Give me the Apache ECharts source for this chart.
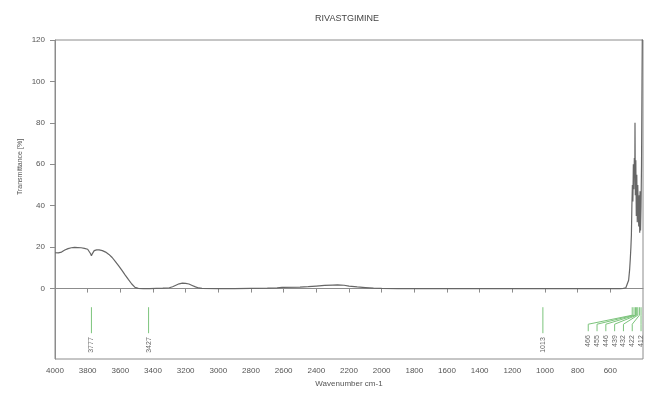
<!DOCTYPE html>
<html>
<head>
<meta charset="utf-8">
<title>RIVASTGIMINE IR spectrum</title>
<script src="https://cdn.jsdelivr.net/npm/echarts@6/dist/echarts.min.js"></script>
<style>
  html, body { margin: 0; padding: 0; background: #fff; }
  #chart { width: 651px; height: 393px; }
</style>
</head>
<body>
<div id="chart"></div>
<script>
// IR spectrum of rivastigmine: wavenumber (cm-1) vs transmittance (%)
const wavenumbers = [
  4000, 3980, 3960, 3940, 3920, 3900, 3880, 3860, 3840, 3820, 3800, 3790, 3782, 3777, 3770,
  3760, 3745, 3730, 3710, 3690, 3670, 3650, 3630, 3610, 3590, 3570, 3550, 3530, 3510, 3490,
  3460, 3420, 3380, 3340, 3300, 3280, 3260, 3240, 3220, 3200, 3180, 3160, 3140, 3120, 3100,
  3000, 2900, 2800, 2700, 2640, 2610, 2500, 2450, 2400, 2350, 2300, 2270, 2230, 2200, 2150,
  2100, 2050, 2000, 1900, 1800, 1600, 1400, 1200, 1000, 800, 600, 540, 520, 505, 495,
  488, 482, 478, 474, 471, 468, 465, 462, 459, 456, 453, 450, 449, 447, 444,
  441, 438, 435, 432, 429, 426, 423, 420, 418, 415, 412, 409, 406, 404
];
const transmittance = [
  17.3, 17.2, 17.6, 18.6, 19.3, 19.7, 19.9, 19.8, 19.7, 19.4, 19.0, 18.3, 16.8, 15.8, 17.0,
  18.3, 18.7, 18.7, 18.3, 17.6, 16.5, 15.0, 13.0, 11.0, 8.8, 6.5, 4.3, 2.2, 0.6, 0.1,
  0.0, 0.0, 0.1, 0.2, 0.4, 0.9, 1.6, 2.3, 2.6, 2.5, 2.2, 1.5, 0.8, 0.3, 0.1,
  0.0, 0.0, 0.1, 0.2, 0.3, 0.6, 0.7, 0.9, 1.2, 1.5, 1.7, 1.8, 1.6, 1.2, 0.8,
  0.5, 0.2, 0.05, 0.0, 0.0, 0.0, 0.0, 0.0, 0.0, 0.0, 0.0, 0.0, 0.1, 0.4, 1.0,
  4.0, 9.0, 14.0, 20.0, 26.0, 40.0, 50.0, 42.0, 60.0, 48.0, 63.0, 55.0, 80.0, 45.0, 62.0,
  35.0, 55.0, 32.0, 50.0, 38.0, 30.0, 45.0, 27.0, 47.0, 28.0, 40.0, 60.0, 100.0, 125.0
];

// Annotated peak positions
const isolatedPeaks = [3777, 3427, 1013];
const clusterPeaks = [466, 455, 446, 439, 432, 422, 412];

// Axis tick labels
const xTickLabels = [4000, 3800, 3600, 3400, 3200, 3000, 2800, 2600, 2400, 2200, 2000,
  1800, 1600, 1400, 1200, 1000, 800, 600];
const yTickLabels = [0, 20, 40, 60, 80, 100, 120];

const chartTitle = 'RIVASTGIMINE';
const xName = 'Wavenumber cm-1';
const yName = 'Transmittance [%]';

const spectrum = wavenumbers.map((w, i) => [w, transmittance[i]]);
const peakItems = isolatedPeaks.map(p => [p, 0]).concat(clusterPeaks.map(p => [p, 0]));

const FONT = "'Liberation Sans Narrow', 'Liberation Sans', sans-serif";
const AXIS_COLOR = '#8c8c8c';
const TEXT_COLOR = '#555';
const PEAK_COLOR = '#7cc47c';

const chart = echarts.init(document.getElementById('chart'), null, { renderer: 'canvas' });

function renderPeak(params, api) {
  const idx = params.dataIndex;
  const wn = api.value(0);
  const top = api.coord([wn, -9]);
  const x = top[0], y0 = top[1];
  const lineStyle = { stroke: PEAK_COLOR, lineWidth: 1 };
  const textStyle = {
    text: String(wn), fill: '#666', font: '7px ' + FONT,
    align: 'right', verticalAlign: 'middle'
  };
  if (idx < isolatedPeaks.length) {
    return {
      type: 'group',
      children: [
        { type: 'line', shape: { x1: x, y1: y0, x2: x, y2: y0 + 26 }, style: lineStyle },
        { type: 'text', x: x, y: y0 + 30, rotation: Math.PI / 2, style: textStyle }
      ]
    };
  }
  // crowded peaks: spread labels leftwards with leader lines
  const k = idx - isolatedPeaks.length;
  const n = clusterPeaks.length;
  const lastX = api.coord([clusterPeaks[n - 1], 0])[0];
  const lx = lastX - (n - 1 - k) * 8.8;
  return {
    type: 'group',
    children: [
      { type: 'polyline', shape: { points: [[x, y0], [x, y0 + 8], [lx, y0 + 17], [lx, y0 + 24]] }, style: Object.assign({ fill: null }, lineStyle) },
      { type: 'text', x: lx, y: y0 + 28, rotation: Math.PI / 2, style: textStyle }
    ]
  };
}

chart.setOption({
  animation: false,
  backgroundColor: '#fff',
  grid: { left: 55, right: 8, top: 40, bottom: 28, show: true, borderColor: AXIS_COLOR, borderWidth: 1 },
  graphic: [
    { type: 'text', x: 347, y: 19, style: { text: chartTitle, fill: '#444', font: '9px ' + FONT, align: 'center', verticalAlign: 'middle' } },
    { type: 'text', x: 20, y: 167, rotation: Math.PI / 2, style: { text: yName, fill: TEXT_COLOR, font: '7px ' + FONT, align: 'center', verticalAlign: 'middle' } }
  ],
  xAxis: {
    type: 'value', inverse: true, min: 400, max: 4000,
    name: xName, nameLocation: 'middle', nameGap: 21,
    nameTextStyle: { color: TEXT_COLOR, fontSize: 8, fontFamily: FONT },
    axisLine: { show: true, lineStyle: { color: AXIS_COLOR } },
    axisTick: { show: true, length: 4, lineStyle: { color: AXIS_COLOR }, customValues: xTickLabels },
    axisLabel: { color: TEXT_COLOR, fontSize: 8, fontFamily: FONT, margin: 8, customValues: xTickLabels, formatter: v => String(v) },
    splitLine: { show: false }
  },
  yAxis: {
    type: 'value', min: -34, max: 120,
    axisLine: { show: true, lineStyle: { color: AXIS_COLOR } },
    axisTick: { show: true, length: 5, lineStyle: { color: AXIS_COLOR }, customValues: yTickLabels },
    axisLabel: { color: TEXT_COLOR, fontSize: 8, fontFamily: FONT, margin: 10, customValues: yTickLabels, formatter: v => String(v) },
    splitLine: { show: false }
  },
  series: [
    {
      type: 'line', data: spectrum, showSymbol: false, clip: true,
      lineStyle: { color: '#666', width: 1.2 }
    },
    {
      type: 'custom', data: peakItems, renderItem: renderPeak, clip: false, silent: true
    }
  ]
});
</script>
</body>
</html>
